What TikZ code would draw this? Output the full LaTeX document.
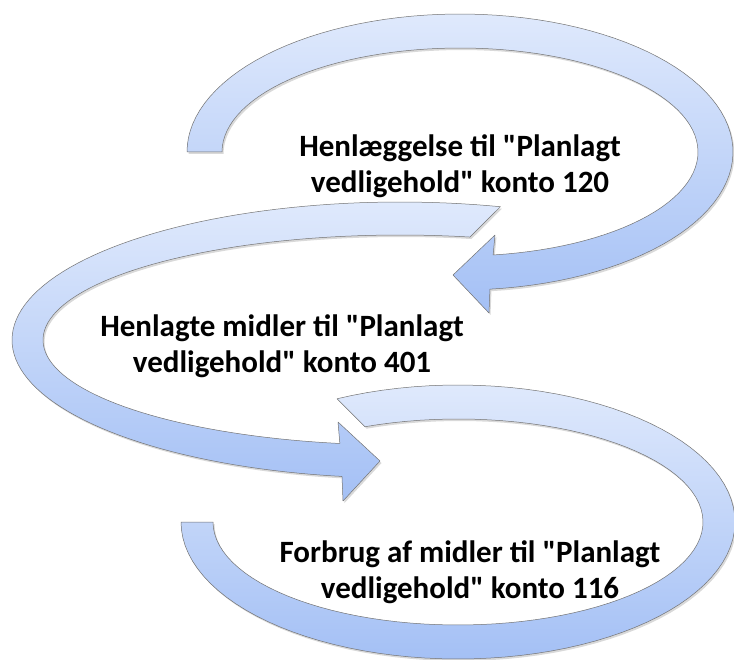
\documentclass[tikz,border=0pt]{standalone}
\usepackage{fontspec}
\setmainfont{Carlito}[Ligatures=TeXOff]
\usetikzlibrary{shadows}
\definecolor{bandtop}{RGB}{223,233,252}
\definecolor{bandbot}{RGB}{164,192,245}
\tikzset{bandshape/.style={draw=black!55, line width=0.5pt, top color=bandtop, bottom color=bandbot,
		drop shadow={shadow xshift=1.5pt, shadow yshift=-2pt, opacity=0.3}},
	boxtext/.style={align=center, font=\fontsize{31}{36}\selectfont\bfseries}}

\begin{document}
\begin{tikzpicture}[x=1pt, y=-1pt, line join=round, line cap=round]
	\useasboundingbox (0,0) rectangle (734,660);
	% top arrow
	\def\cx{460}\def\cy{152}
	\path[bandshape] plot[domain=180:443.7, samples=90] ({\cx+273*cos(\x)},{\cy+138*sin(\x)})
		-- (489,313) -- (453,275) -- (495,235)
		-- plot[domain=442:180, samples=90] ({\cx+238*cos(\x)},{\cy+104*sin(\x)}) -- cycle;
	% middle arrow
	\def\cx{400}\def\cy{340}
	\path[bandshape] plot[domain=-75:-261.4, samples=90] ({\cx+388*cos(\x)},{\cy+138*sin(\x)})
		-- (343,501) -- (380,461) -- (338,422)
		-- plot[domain=-260.3:-78.7, samples=90] ({\cx+357*cos(\x)},{\cy+105*sin(\x)}) -- cycle;
	% bottom arrow
	\def\cx{458}\def\cy{522}
	\path[bandshape] plot[domain=-115.9:180, samples=90] ({\cx+277*cos(\x)},{\cy+137*sin(\x)})
		-- plot[domain=180:-112.3, samples=90] ({\cx+245*cos(\x)},{\cy+103*sin(\x)}) -- cycle;
	\node[boxtext] (henl) at (460,166) {Henlæggelse til "Planlagt\\vedligehold" konto 120};
	\node[boxtext] (midl) at (282,346) {Henlagte midler til "Planlagt\\vedligehold" konto 401};
	\node[boxtext] (forb) at (470,572) {Forbrug af midler til "Planlagt\\vedligehold" konto 116};
\end{tikzpicture}
\end{document}
